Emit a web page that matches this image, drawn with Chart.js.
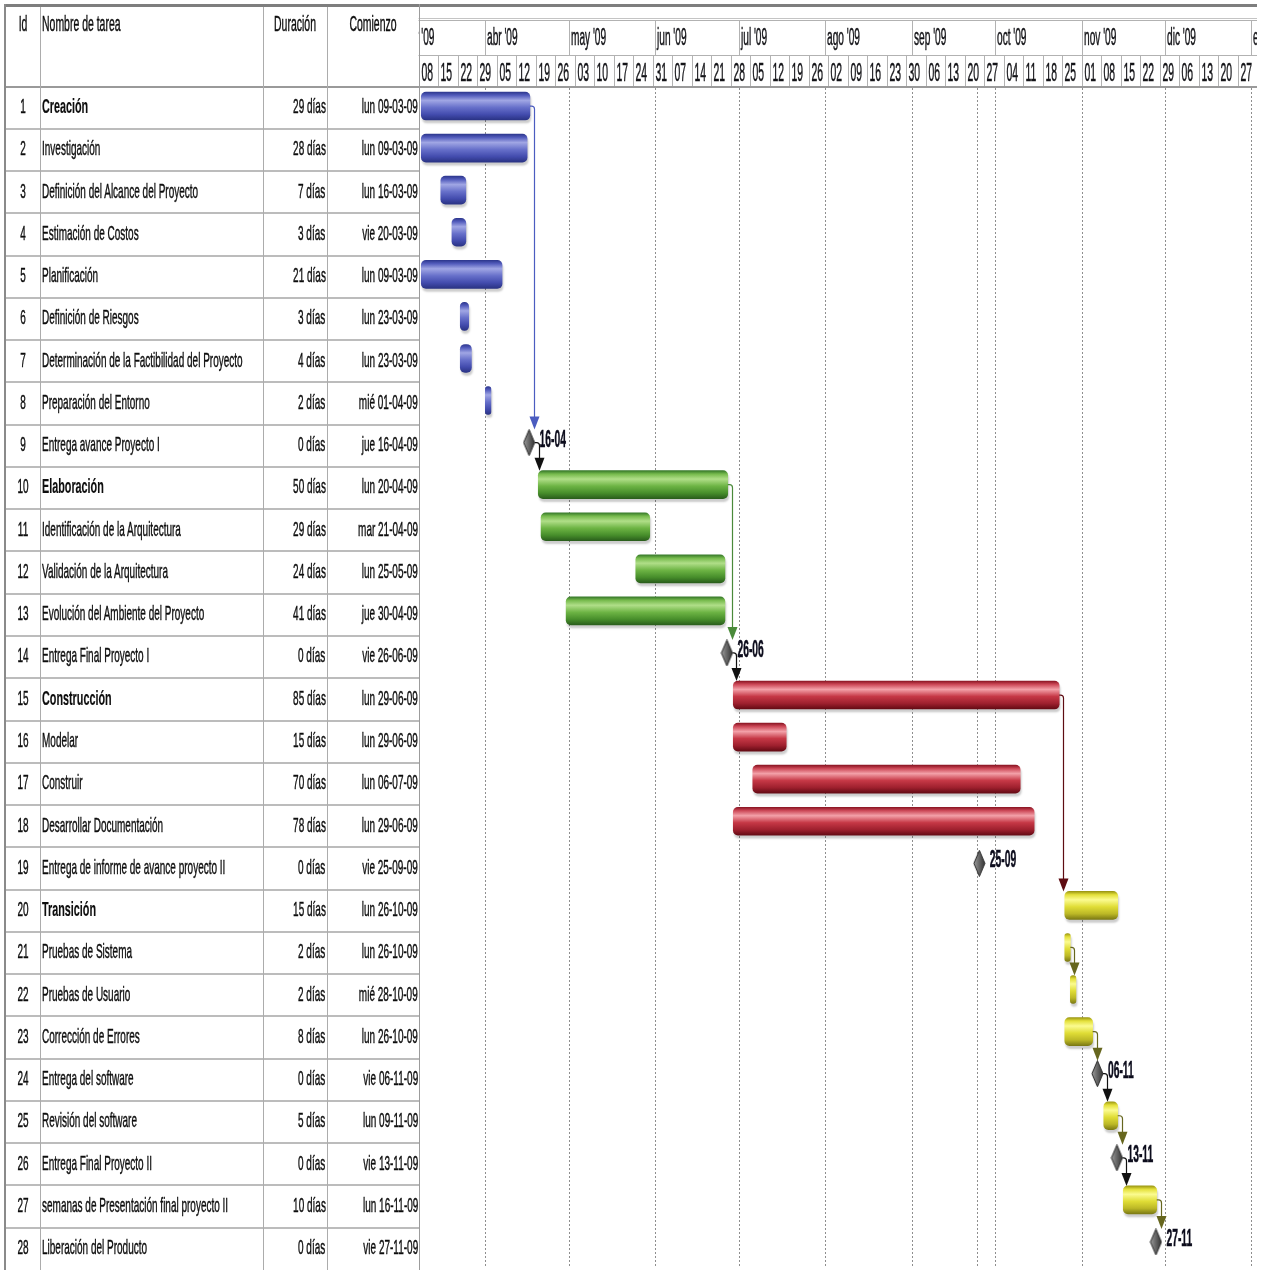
<!DOCTYPE html>
<html lang="es">
<head>
<meta charset="utf-8">
<title>Cronograma del proyecto</title>
<script src="https://cdn.jsdelivr.net/npm/chart.js@4.4.1/dist/chart.umd.min.js"></script>
<style>
  html, body { margin: 0; padding: 0; background: #fff; }
  #wrap { position: relative; width: 1267px; height: 1270px; overflow: hidden;
          font-family: "Liberation Sans", Arial, sans-serif; color: #0e0e0e; }
  #gantt { position: absolute; left: 0; top: 0; }
  #tabla { position: absolute; left: 0; top: 0; width: 420px; height: 1270px; }
  .ln { position: absolute; }
  .tx { position: absolute; white-space: nowrap; display: inline-block; -webkit-text-stroke: 0.45px #0e0e0e; }
</style>
</head>
<body>
<div id="wrap">
  <canvas id="gantt" width="1267" height="1270"></canvas>
  <div id="tabla"></div>
</div>
<script>
// ---- Tareas del proyecto ----
const taskIds = [1, 2, 3, 4, 5, 6, 7, 8, 9, 10, 11, 12, 13, 14, 15, 16, 17, 18, 19, 20, 21, 22, 23, 24, 25, 26, 27, 28];
const taskNames = [
  'Creación', 'Investigación', 'Definición del Alcance del Proyecto', 'Estimación de Costos',
  'Planificación', 'Definición de Riesgos', 'Determinación de la Factibilidad del Proyecto',
  'Preparación del Entorno', 'Entrega avance Proyecto I', 'Elaboración',
  'Identificación de la Arquitectura', 'Validación de la Arquitectura',
  'Evolución del Ambiente del Proyecto', 'Entrega Final Proyecto I', 'Construcción', 'Modelar',
  'Construir', 'Desarrollar Documentación', 'Entrega de informe de avance proyecto II',
  'Transición', 'Pruebas de Sistema', 'Pruebas de Usuario', 'Corrección de Errores',
  'Entrega del software', 'Revisión del software', 'Entrega Final Proyecto II',
  'semanas de Presentación final proyecto II', 'Liberación del Producto'
];
const durationLabels = [
  '29 días', '28 días', '7 días', '3 días', '21 días', '3 días', '4 días', '2 días', '0 días',
  '50 días', '29 días', '24 días', '41 días', '0 días', '85 días', '15 días', '70 días',
  '78 días', '0 días', '15 días', '2 días', '2 días', '8 días', '0 días', '5 días', '0 días',
  '10 días', '0 días'
];
const startLabels = [
  'lun 09-03-09', 'lun 09-03-09', 'lun 16-03-09', 'vie 20-03-09', 'lun 09-03-09', 'lun 23-03-09',
  'lun 23-03-09', 'mié 01-04-09', 'jue 16-04-09', 'lun 20-04-09', 'mar 21-04-09', 'lun 25-05-09',
  'jue 30-04-09', 'vie 26-06-09', 'lun 29-06-09', 'lun 29-06-09', 'lun 06-07-09', 'lun 29-06-09',
  'vie 25-09-09', 'lun 26-10-09', 'lun 26-10-09', 'mié 28-10-09', 'lun 26-10-09', 'vie 06-11-09',
  'lun 09-11-09', 'vie 13-11-09', 'lun 16-11-09', 'vie 27-11-09'
];
const summaryIds = [1, 10, 15, 20];
// fase de cada tarea (0 creación, 1 elaboración, 2 construcción, 3 transición, -1 hito)
const phaseOfTask = [0, 0, 0, 0, 0, 0, 0, 0, -1, 1, 1, 1, 1, -1, 2, 2, 2, 2, -1, 3, 3, 3, 3, -1, 3, -1, 3, -1];

// ---- Hitos ----
const milestoneIds = [9, 14, 19, 24, 26, 28];
const milestoneHours = [17, 17, 8, 17, 17, 17];
const milestoneLabels = ['16-04', '26-06', '25-09', '06-11', '13-11', '27-11'];

// ---- Vínculos fin-a-comienzo (predecesora, sucesora) ----
const links = [[1, 9], [9, 10], [10, 14], [14, 15], [15, 20], [21, 22], [23, 24], [24, 25], [25, 26], [26, 27], [27, 28]];

// ---- Escala de tiempo ----
const monthLabels = ["mar '09", "abr '09", "may '09", "jun '09", "jul '09", "ago '09", "sep '09", "oct '09", "nov '09", "dic '09", "ene '10"];
const monthStarts = ['01-03-09', '01-04-09', '01-05-09', '01-06-09', '01-07-09', '01-08-09', '01-09-09', '01-10-09', '01-11-09', '01-12-09', '01-01-10'];
const weekLabels = ['08', '15', '22', '29', '05', '12', '19', '26', '03', '10', '17', '24', '31', '07', '14', '21', '28',
  '05', '12', '19', '26', '02', '09', '16', '23', '30', '06', '13', '20', '27', '04', '11', '18', '25',
  '01', '08', '15', '22', '29', '06', '13', '20', '27'];
const currentDate = ['24-09-09', 8];   // línea de fecha actual (día, hora)

const AXIS_START = Date.UTC(2009, 2, 8);   // domingo 08-03-09
const AXIS_DAYS = 301;
const DAY_MS = 86400000;
const FONT = '"Liberation Sans", Arial, sans-serif';
const NARROW = 0.476;

function parseDMY(label, hour) {
  const m = label.match(/(\d\d)-(\d\d)-(\d\d)$/);
  return Date.UTC(2000 + Number(m[3]), Number(m[2]) - 1, Number(m[1]), hour || 0);
}
function toDay(ms) { return (ms - AXIS_START) / DAY_MS; }
// fin (exclusivo) tras n días laborables, sin sábados ni domingos
function finishAfterWorkDays(startMs, n) {
  let t = startMs, c = 0;
  while (c < n) {
    const wd = new Date(t).getUTCDay();
    if (wd !== 0 && wd !== 6) c++;
    t += DAY_MS;
  }
  return t;
}

const barData = taskNames.map((_, i) => {
  const n = parseInt(durationLabels[i], 10);
  if (!n) return null;
  const s = parseDMY(startLabels[i]);
  return [toDay(s), toDay(finishAfterWorkDays(s, n))];
});
const milestoneData = milestoneIds.map((id, k) => ({
  x: toDay(parseDMY(startLabels[id - 1], milestoneHours[k])),
  y: taskNames[id - 1]
}));

// ---- Estilos de barra por fase ----
const BAR_H = 28;
const phaseStyles = [
  { stops: ['#2e388f', '#535cbc', '#a0a6e4', '#6770ca', '#434cae', '#2a3384'], link: '#4b5cc0' },
  { stops: ['#37792a', '#76ba4c', '#b0de88', '#6db444', '#478e2b', '#2a5e1c'], link: '#4a8a3a' },
  { stops: ['#8c1624', '#cc4857', '#f3a0a8', '#c63846', '#9e202e', '#640a14'], link: '#5e0c12' },
  { stops: ['#9c9814', '#e4e03a', '#fbfb90', '#e0dd36', '#bcb826', '#7c7a14'], link: '#66661e' }
];
const stopPos = [0, 0.12, 0.3, 0.55, 0.8, 1];

function barFill(c) {
  const st = phaseStyles[Math.max(0, phaseOfTask[c.dataIndex])];
  const chart = c.chart;
  if (!chart.chartArea || !chart.scales.y) return st.stops[3];
  const yc = chart.scales.y.getPixelForValue(c.dataIndex);
  const g = chart.ctx.createLinearGradient(0, yc - BAR_H / 2, 0, yc + BAR_H / 2);
  st.stops.forEach((col, i) => g.addColorStop(stopPos[i], col));
  return g;
}

function diamondImage() {
  const cv = document.createElement('canvas');
  cv.width = 13; cv.height = 27;
  const c = cv.getContext('2d');
  c.beginPath();
  c.moveTo(6.5, 0.5); c.lineTo(12, 13.5); c.lineTo(6.5, 26.5); c.lineTo(1, 13.5); c.closePath();
  const g = c.createLinearGradient(1, 0, 12, 0);
  g.addColorStop(0, '#9c9c9c'); g.addColorStop(0.45, '#6a6a6a'); g.addColorStop(1, '#353535');
  c.fillStyle = g; c.fill();
  c.strokeStyle = '#262626'; c.lineWidth = 1; c.stroke();
  return cv;
}

function narrowText(c, text, x, y, size, bold, align, k) {
  c.save();
  c.translate(x, y);
  c.scale(k, 1);
  c.font = (bold ? 'bold ' : '') + size + 'px ' + FONT;
  c.textAlign = align;
  c.textBaseline = 'alphabetic';
  c.fillText(text, 0, 0);
  c.lineWidth = 0.5;
  c.strokeStyle = c.fillStyle;
  c.strokeText(text, 0, 0);
  c.restore();
}

// ---- Encabezado de la escala temporal ----
const timescaleHeader = {
  id: 'timescaleHeader',
  beforeDraw(chart) {
    const c = chart.ctx, x = chart.scales.x;
    const left = x.getPixelForValue(0), right = x.getPixelForValue(AXIS_DAYS);
    c.save();
    c.fillStyle = '#fff';
    c.fillRect(left, 0, right - left, 88);
    // línea superior gruesa
    c.fillStyle = '#7e7e7e';
    c.fillRect(left, 4, right - left, 3);
    c.fillStyle = '#c4c4c4';
    c.fillRect(left, 18, right - left, 1);
    c.fillStyle = '#b2b2b2';
    c.fillRect(left, 20, right - left, 1);
    c.fillRect(left, 55, right - left, 1);
    c.fillStyle = '#9a9a9a';
    c.fillRect(left, 86, right - left, 2);

    c.beginPath();
    c.rect(left, 0, right - left, 88);
    c.clip();

    // nivel de meses
    c.lineWidth = 1;
    monthStarts.forEach((m, i) => {
      const px = Math.round(x.getPixelForValue(toDay(parseDMY(m)))) + 0.5;
      c.strokeStyle = '#b2b2b2';
      c.beginPath(); c.moveTo(px, 21); c.lineTo(px, 55); c.stroke();
      c.fillStyle = '#141418';
      narrowText(c, monthLabels[i], px + 1.5, 45, 23, false, 'left', 0.44);
    });
    // nivel de semanas
    weekLabels.forEach((w, i) => {
      const px = Math.round(x.getPixelForValue(i * 7)) + 0.5;
      c.strokeStyle = '#b2b2b2';
      c.beginPath(); c.moveTo(px, 56); c.lineTo(px, 86); c.stroke();
      c.fillStyle = '#141418';
      narrowText(c, w, px + 2, 80.5, 26, false, 'left', 0.4);
    });
    c.restore();
  }
};

// ---- Líneas punteadas: inicio de mes y fecha actual ----
const monthGrid = {
  id: 'monthGrid',
  beforeDatasetsDraw(chart) {
    const c = chart.ctx, x = chart.scales.x, a = chart.chartArea;
    c.save();
    c.strokeStyle = '#8e8e8e';
    c.lineWidth = 1;
    c.setLineDash([2, 2]);
    const days = monthStarts.map(m => toDay(parseDMY(m)));
    days.push(toDay(parseDMY(currentDate[0], currentDate[1])));
    days.forEach(d => {
      if (d <= 0 || d >= AXIS_DAYS) return;
      const px = Math.round(x.getPixelForValue(d)) + 0.5;
      c.beginPath(); c.moveTo(px, 88); c.lineTo(px, a.bottom + 4); c.stroke();
    });
    c.restore();
  }
};

// ---- Sombra de las barras ----
const barShadow = {
  id: 'barShadow',
  beforeDatasetDraw(chart, args) {
    if (args.index !== 0) return;
    const c = chart.ctx;
    c.save();
    c.shadowColor = 'rgba(0,0,0,0.2)';
    c.shadowBlur = 2;
    c.shadowOffsetX = 1;
    c.shadowOffsetY = 3;
  },
  afterDatasetDraw(chart, args) {
    if (args.index === 0) chart.ctx.restore();
  }
};

// ---- Flechas de vínculo y etiquetas de hitos ----
const linkArrows = {
  id: 'linkArrows',
  afterDatasetsDraw(chart) {
    const c = chart.ctx;
    const bars = chart.getDatasetMeta(0).data;
    const ms = chart.getDatasetMeta(1).data;
    const anchor = id => {
      const k = milestoneIds.indexOf(id);
      if (k >= 0) {
        const p = ms[k];
        return { right: p.x + 5.5, top: p.y - 13, y: p.y, milestone: true };
      }
      const b = bars[id - 1];
      return { right: b.x, top: b.y - BAR_H / 2, y: b.y, milestone: false };
    };
    links.forEach(([from, to]) => {
      const a = anchor(from), b = anchor(to);
      const col = a.milestone ? '#111' : phaseStyles[phaseOfTask[from - 1]].link;
      const vx = Math.round(a.right + 4) + 0.5;
      const tipY = b.top;
      c.save();
      c.strokeStyle = col;
      c.fillStyle = col;
      c.lineWidth = 1.2;
      c.beginPath();
      c.moveTo(a.right, a.y);
      c.lineTo(vx - 3, a.y);
      c.quadraticCurveTo(vx, a.y, vx, a.y + 3);
      c.lineTo(vx, tipY - 11);
      c.stroke();
      c.beginPath();
      c.moveTo(vx - 5, tipY - 13);
      c.lineTo(vx + 5, tipY - 13);
      c.lineTo(vx, tipY);
      c.closePath();
      c.fill();
      c.restore();
    });
    // etiquetas de fecha de los hitos
    c.save();
    c.fillStyle = '#0c0c1c';
    ms.forEach((p, k) => {
      narrowText(c, milestoneLabels[k], p.x + 10.5, p.y + 4, 24, true, 'left', 0.43);
    });
    c.restore();
  }
};

new Chart(document.getElementById('gantt'), {
  type: 'bar',
  data: {
    labels: taskNames,
    datasets: [
      {
        type: 'bar',
        label: 'Tareas',
        data: barData,
        backgroundColor: barFill,
        borderWidth: 0,
        borderRadius: 5,
        borderSkipped: false,
        barThickness: BAR_H
      },
      {
        type: 'scatter',
        label: 'Hitos',
        data: milestoneData,
        pointStyle: diamondImage(),
        pointRadius: 6,
        clip: false
      }
    ]
  },
  options: {
    indexAxis: 'y',
    responsive: false,
    animation: false,
    events: [],
    layout: { padding: { left: 418.5, right: 10, top: 85, bottom: 1 } },
    scales: {
      x: { type: 'linear', min: 0, max: AXIS_DAYS, display: false },
      y: { type: 'category', display: false, offset: true }
    },
    plugins: { legend: { display: false }, tooltip: { enabled: false } }
  },
  plugins: [timescaleHeader, monthGrid, barShadow, linkArrows]
});

// ---- Tabla de tareas ----
const tabla = document.getElementById('tabla');
const ROW_TOP = 86.5, ROW_H = (1270 - 86.5) / 28, TABLE_W = 420;
function line(x, y, w, h, col) {
  const d = document.createElement('div');
  d.className = 'ln';
  Object.assign(d.style, { left: x + 'px', top: y + 'px', width: w + 'px', height: h + 'px', background: col });
  tabla.appendChild(d);
}
function text(str, x, align, top, h, size, bold) {
  const s = document.createElement('span');
  s.className = 'tx';
  s.textContent = str;
  const k = bold ? NARROW * 1.08 : NARROW;
  Object.assign(s.style, { top: top + 'px', height: h + 'px', lineHeight: h + 'px', fontSize: size + 'px', fontWeight: bold ? 'bold' : 'normal' });
  if (bold) s.style.webkitTextStroke = '0.2px #0e0e0e';
  if (align === 'left') {
    s.style.left = x + 'px'; s.style.transformOrigin = '0 50%'; s.style.transform = 'scaleX(' + k + ')';
  } else if (align === 'right') {
    s.style.right = (TABLE_W - x) + 'px'; s.style.transformOrigin = '100% 50%'; s.style.transform = 'scaleX(' + k + ')';
  } else {
    s.style.left = x + 'px'; s.style.transformOrigin = '50% 50%'; s.style.transform = 'translateX(-50%) scaleX(' + k + ')';
  }
  tabla.appendChild(s);
}

// rejilla
line(5, 4, 415, 3, '#7e7e7e');
line(5, 86, 415, 2, '#9a9a9a');
for (let i = 1; i < 28; i++) line(5, Math.round(ROW_TOP + i * ROW_H) - 1, 415, 2, '#bcbcbc');
line(4, 4, 2, 1266, '#8a8a8a');
[40, 263, 327].forEach(x => line(x, 7, 1, 1263, '#acacac'));
line(419, 4, 1, 1266, '#9c9c9c');

// encabezados
text('Id', 22.5, 'center', 11, 26, 22, false);
text('Nombre de tarea', 42, 'left', 11, 26, 22, false);
text('Duración', 295, 'center', 11, 26, 22, false);
text('Comienzo', 373, 'center', 11, 26, 22, false);

// filas
taskIds.forEach((id, i) => {
  const top = ROW_TOP + i * ROW_H - 1.5;
  const bold = summaryIds.includes(id);
  text(String(id), 22.5, 'center', top, ROW_H, 21, false);
  text(taskNames[i], 42, 'left', top, ROW_H, 21, bold);
  text(durationLabels[i], 325.5, 'right', top, ROW_H, 21, false);
  text(startLabels[i], 418, 'right', top, ROW_H, 21, false);
});
</script>
</body>
</html>
